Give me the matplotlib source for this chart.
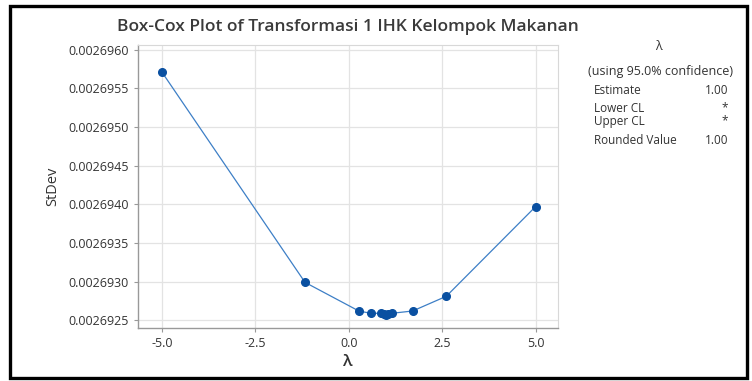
import matplotlib
matplotlib.use('Agg')
import matplotlib.pyplot as plt
from matplotlib.patches import Rectangle
from matplotlib.ticker import FormatStrFormatter

# Box-Cox search points (lambda, StDev)
lambdas = [-5.0, -1.17, 0.27, 0.59, 0.85, 0.95, 1.0, 1.05, 1.15, 1.71, 2.61, 5.0]
stdevs = [0.00269571, 0.00269299, 0.00269262, 0.00269259, 0.00269259,
          0.00269258, 0.00269257, 0.00269258, 0.00269259, 0.00269262,
          0.00269281, 0.00269397]
x_ticks = [-5.0, -2.5, 0.0, 2.5, 5.0]
y_ticks = [0.0026925, 0.0026930, 0.0026935, 0.0026940,
           0.0026945, 0.0026950, 0.0026955, 0.0026960]

info_labels = ['Estimate', 'Lower CL', 'Upper CL', 'Rounded Value']
info_values = ['1.00', '*', '*', '1.00']

plt.rcParams['font.family'] = ['Open Sans', 'DejaVu Sans']
txt = '#333333'

fig = plt.figure(figsize=(7.52, 3.81), dpi=100)
W, H = 752, 381
ax = fig.add_axes([138 / W, 1 - 328 / H, (558 - 138) / W, (328 - 45) / H])

ax.plot(lambdas, stdevs, color='#3d7fc6', lw=0.9, zorder=2)
ax.plot(lambdas, stdevs, 'o', color='#0a50a1', ms=5.5, zorder=3)

ax.set_xlim(-5.64, 5.6)
ax.set_ylim(0.00269240, 0.00269606)
ax.set_xticks(x_ticks)
ax.set_yticks(y_ticks)
ax.xaxis.set_major_formatter(FormatStrFormatter('%.1f'))
ax.yaxis.set_major_formatter(FormatStrFormatter('%.7f'))
ax.grid(True, color='#e3e3e3', lw=0.9)
ax.set_axisbelow(True)
for s in ['top', 'right']:
    ax.spines[s].set_color('#d8d8d8')
for s in ['left', 'bottom']:
    ax.spines[s].set_color('#999999')
    ax.spines[s].set_linewidth(1.0)
ax.tick_params(colors='#999999', labelcolor=txt, labelsize=9, length=3)
for lbl in ax.get_xticklabels() + ax.get_yticklabels():
    lbl.set_fontweight('medium')

ax.set_xlabel('λ', fontsize=12, color=txt, labelpad=3, fontweight='semibold')
ax.set_ylabel('StDev', fontsize=10.5, color=txt, labelpad=6)
fig.text(348 / W, 1 - 27 / H, 'Box-Cox Plot of Transformasi 1 IHK Kelompok Makanan',
         ha='center', va='center', fontsize=12.5, color='#3a3a3a',
         fontweight='semibold')

# info panel
fig.text(658 / W, 1 - 47 / H, 'λ', ha='center', va='center', fontsize=9, color=txt)
fig.text(660 / W, 1 - 72 / H, '(using 95.0% confidence)', ha='center', va='center',
         fontsize=9, color=txt, fontweight='medium')
rows_y = [90, 108, 121, 141]
for lab, val, yy in zip(info_labels, info_values, rows_y):
    fig.text(594 / W, 1 - yy / H, lab, ha='left', va='center', fontsize=8.5,
             color=txt, fontweight='medium')
    fig.text(728 / W, 1 - yy / H, val, ha='right', va='center', fontsize=8.5,
             color=txt, fontweight='medium')

# outer frame
fig.patches.append(Rectangle((10 / W, 1 - 378 / H), 737 / W, 372 / H,
                             transform=fig.transFigure, fill=False,
                             edgecolor='black', lw=2.4))

fig.savefig('out.png', dpi=100)
